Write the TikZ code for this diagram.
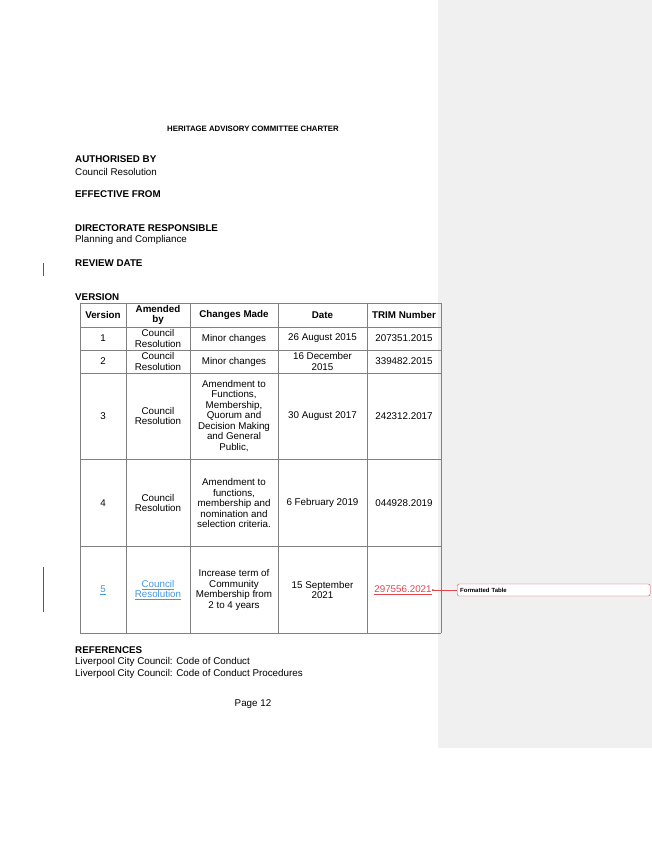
\documentclass[tikz,border=0pt]{standalone}
\usepackage{fontspec}
\setmainfont{Liberation Sans}
\usetikzlibrary{positioning}
\definecolor{panel}{RGB}{240,240,240}
\definecolor{linkblue}{RGB}{70,150,220}
\definecolor{revred}{RGB}{225,70,80}
\begin{document}
\begin{tikzpicture}[x=1pt,y=-1pt,
  body/.style={anchor=west,inner sep=0pt,font=\fontsize{9.8}{10.8}\selectfont},
  head/.style={body,font=\fontsize{9.8}{10.8}\selectfont\bfseries},
  cell/.style={align=center,inner sep=0pt,font=\fontsize{9.8}{10.5}\selectfont},
  hcell/.style={cell,font=\fontsize{9.8}{10}\selectfont\bfseries}]
\useasboundingbox (0,0) rectangle (652,844);
\fill[panel] (438,0) rectangle (652,748);

\node[inner sep=0pt,font=\fontsize{7.8}{9}\selectfont\bfseries] (title) at (253,129) {HERITAGE ADVISORY COMMITTEE CHARTER};

\node[head] (auth) at (75,159) {AUTHORISED BY};
\node[body] (authv) at (75,172) {Council Resolution};
\node[head] (eff) at (75,194) {EFFECTIVE FROM};
\node[head] (dir) at (75,228) {DIRECTORATE RESPONSIBLE};
\node[body] (dirv) at (75,240) {Planning and Compliance};
\node[head] (rev) at (75,263) {REVIEW DATE};
\node[head] (ver) at (75,297) {VERSION};

% change bars
\draw[thick,gray!70!black] (43,263) -- (43,276);
\draw[thick,gray!70!black] (43,567) -- (43,612);

% table grid
\def\xs{80,126,190,278,367,441}
\foreach \x in \xs {\draw[gray] (\x,303) -- (\x,633);}
\foreach \y in {303,327,350,373,459,546,633} {\draw[gray] (80,\y) -- (441,\y);}

\node[hcell] (h1) at (103,315) {Version};
\node[hcell] (h2) at (158,315) {Amended\\by};
\node[hcell] (h3) at (234,315) {Changes Made};
\node[hcell] (h4) at (322.5,315) {Date};
\node[hcell] (h5) at (404,315) {TRIM Number};

\node[cell] (a1) at (103,338.5) {1};
\node[cell] (b1) at (158,338.5) {Council\\Resolution};
\node[cell] (c1) at (234,338.5) {Minor changes};
\node[cell] (d1) at (322.5,338.5) {26 August 2015};
\node[cell] (e1) at (404,338.5) {207351.2015};

\node[cell] (a2) at (103,361.5) {2};
\node[cell] (b2) at (158,361.5) {Council\\Resolution};
\node[cell] (c2) at (234,361.5) {Minor changes};
\node[cell] (d2) at (322.5,361.5) {16 December\\2015};
\node[cell] (e2) at (404,361.5) {339482.2015};

\node[cell] (a3) at (103,416) {3};
\node[cell] (b3) at (158,416) {Council\\Resolution};
\node[cell] (c3) at (234,416) {Amendment to\\Functions,\\Membership,\\Quorum and\\Decision Making\\and General\\Public,};
\node[cell] (d3) at (322.5,416) {30 August 2017};
\node[cell] (e3) at (404,416) {242312.2017};

\node[cell] (a4) at (103,503) {4};
\node[cell] (b4) at (158,503) {Council\\Resolution};
\node[cell] (c4) at (234,503) {Amendment to\\functions,\\membership and\\nomination and\\selection criteria.};
\node[cell] (d4) at (322.5,503) {6 February 2019};
\node[cell] (e4) at (404,503) {044928.2019};

\node[cell,text=linkblue] (a5) at (103,590) {\underline{5}};
\node[cell,text=linkblue] (b5) at (158,590) {\underline{Council}\\\underline{Resolution}};
\node[cell] (c5) at (234,590) {Increase term of\\Community\\Membership from\\2 to 4 years};
\node[cell] (d5) at (322.5,590) {15 September\\2021};
\node[cell,text=revred] (e5) at (403,590) {\underline{297556.2021}};

% comment balloon
\node[draw=revred,rounded corners=2pt,fill=white,anchor=west,minimum width=193pt,minimum height=12pt,
  inner sep=3pt,text width=187pt,font=\fontsize{6}{7}\selectfont\bfseries] (note) at (457,590) {Formatted Table};
\fill[revred] (e5.east) ++(1,0) circle (1pt);
\draw[revred] (e5.east) -- (note.west);

\node[head] (refs) at (75,650) {REFERENCES};
\node[body] (ref1) at (75,662) {Liverpool City Council: Code of Conduct};
\node[body] (ref2) at (75,674) {Liverpool City Council: Code of Conduct Procedures};

\node[inner sep=0pt,font=\fontsize{9.8}{10.8}\selectfont] (page) at (253,704) {Page 12};
\end{tikzpicture}
\end{document}
